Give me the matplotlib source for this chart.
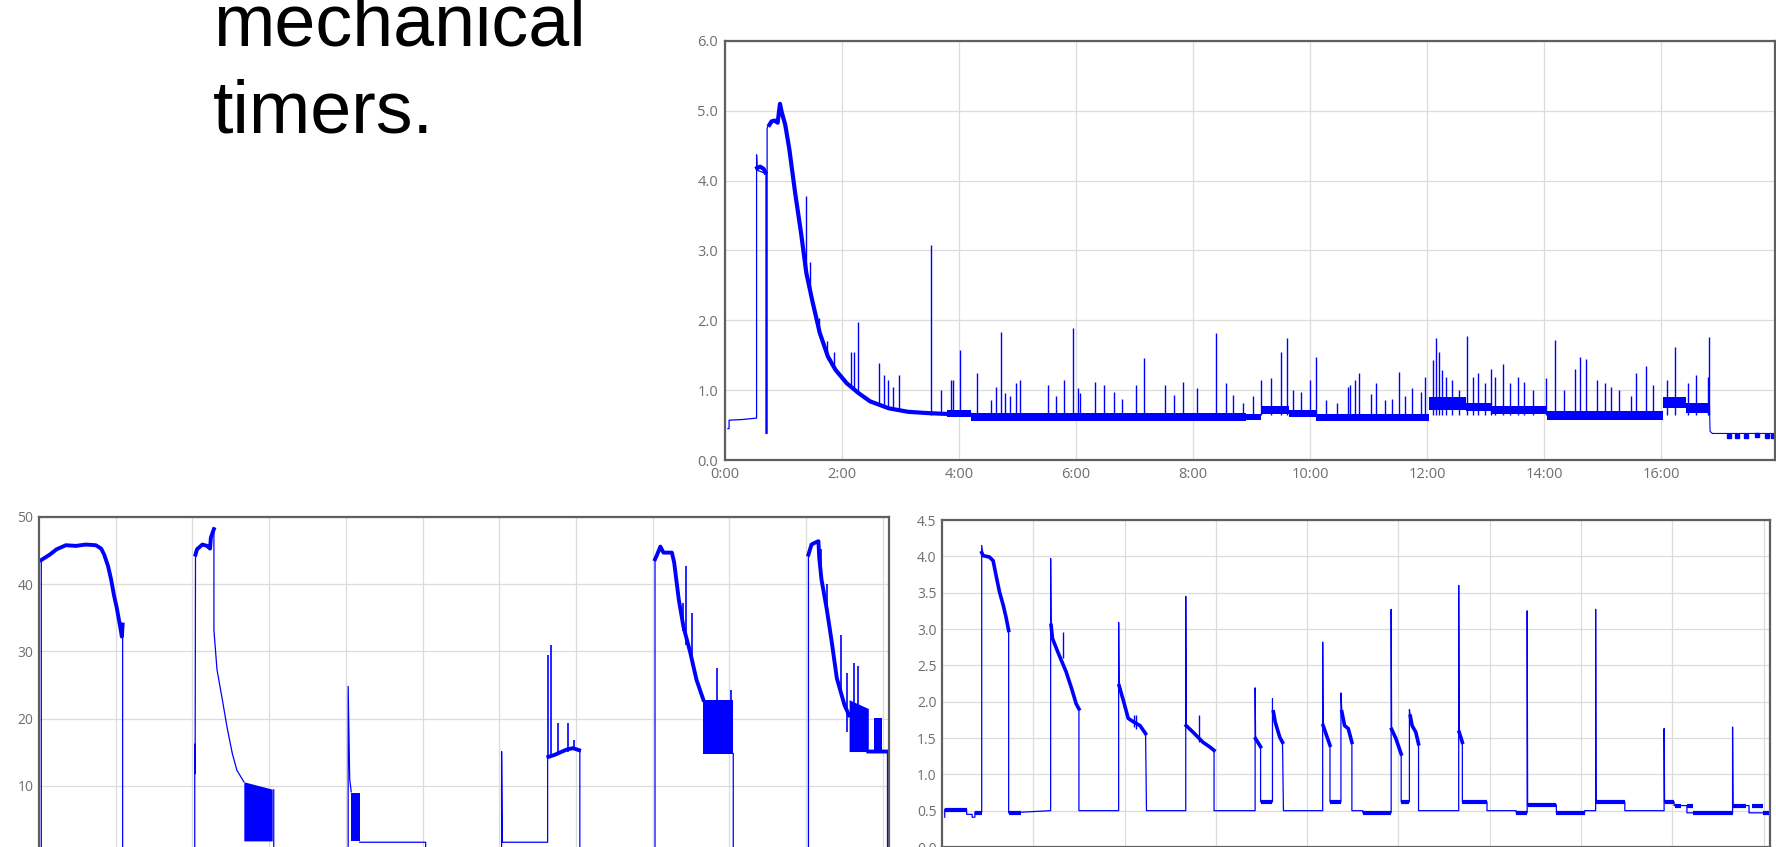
import numpy as np
import matplotlib
matplotlib.use('Agg')
import matplotlib.pyplot as plt

BLUE = '#0000ff'
GRID = '#dcdcdc'
SPINE = '#5f5f5f'
LABEL = '#6e6e6e'
nan = np.nan

# ---------------- top chart (hours since 0:00) ----------------
top_t = [0.05, 0.07, 0.07, 0.30, 0.54, 0.54, 0.55, 0.70, 0.70, 0.72, 0.72, 0.77]
top_v = [0.45, 0.45, 0.57, 0.58, 0.60, 4.37, 4.15, 4.10, 0.38, 0.38, 4.75, 4.85]

top_thick_t = [0.55, 0.60, 0.66, 0.69, nan,
               0.76, 0.80, 0.85, 0.90, 0.94, 0.97, 1.03, 1.10, 1.20, 1.30, 1.39, 1.49,
               1.62, 1.76, 1.89, 2.08, 2.28, 2.48, 2.80, 3.13, 3.50, 3.79, 4.18]
top_thick_v = [4.18, 4.20, 4.17, 4.12, nan,
               4.80, 4.85, 4.86, 4.83, 5.10, 4.98, 4.80, 4.45, 3.82, 3.25, 2.68, 2.29,
               1.82, 1.48, 1.29, 1.10, 0.96, 0.84, 0.74, 0.69, 0.67, 0.66, 0.65]

# noisy baseline bands: start, end, low, high
top_band_t0 = [3.8, 4.2, 8.9, 9.16, 9.65, 10.1, 12.04, 12.66, 13.09, 14.06, 16.04, 16.42]
top_band_t1 = [4.2, 8.9, 9.16, 9.65, 10.1, 12.04, 12.66, 13.09, 14.06, 16.04, 16.42, 16.83]
top_band_lo = [0.62, 0.56, 0.57, 0.66, 0.62, 0.56, 0.72, 0.70, 0.66, 0.57, 0.74, 0.68]
top_band_hi = [0.72, 0.68, 0.66, 0.78, 0.72, 0.66, 0.90, 0.82, 0.78, 0.70, 0.90, 0.82]

top_spike_t = [1.38, 1.46, 1.60, 1.74, 1.87, 2.15, 2.20, 2.27, 2.63, 2.71, 2.79, 2.87,
               2.97, 3.52, 3.70, 3.86, 3.90, 4.02, 4.30, 4.54, 4.64, 4.71, 4.78, 4.87,
               4.98, 5.05, 5.52, 5.66, 5.80, 5.95, 6.03, 6.07, 6.32, 6.48, 6.65, 6.78,
               7.02, 7.16, 7.52, 7.68, 7.83, 8.07, 8.39, 8.57, 8.68, 8.85, 9.03, 9.17,
               9.33, 9.51, 9.61, 9.71, 9.85, 10.00, 10.11, 10.28, 10.46, 10.65, 10.69,
               10.77, 10.84, 11.04, 11.13, 11.28, 11.41, 11.52, 11.63, 11.75, 11.89,
               11.96, 12.10, 12.16, 12.20, 12.26, 12.32, 12.43, 12.54, 12.69, 12.78,
               12.87, 12.99, 13.09, 13.17, 13.30, 13.42, 13.55, 13.66, 13.81, 14.04,
               14.19, 14.34, 14.53, 14.61, 14.72, 14.90, 15.04, 15.14, 15.29, 15.48,
               15.58, 15.75, 15.87, 16.10, 16.24, 16.46, 16.60, 16.81, 16.82]
top_spike_v = [3.78, 2.84, 2.03, 1.70, 1.55, 1.55, 1.55, 1.98, 1.39, 1.22, 1.15, 1.05,
               1.22, 3.08, 1.00, 1.15, 1.15, 1.58, 1.24, 0.86, 1.05, 1.84, 0.96, 0.91,
               1.10, 1.15, 1.08, 0.91, 1.15, 1.89, 1.03, 0.96, 1.12, 1.08, 0.98, 0.88,
               1.08, 1.46, 1.08, 0.93, 1.12, 1.03, 1.82, 1.10, 0.93, 0.81, 0.91, 1.15,
               1.17, 1.55, 1.74, 1.00, 0.98, 1.15, 1.48, 0.86, 0.81, 1.05, 1.07,
               1.15, 1.24, 0.95, 1.10, 0.86, 0.88, 1.26, 0.91, 1.03, 0.98,
               1.19, 1.43, 1.74, 1.55, 1.29, 1.19, 1.15, 1.00, 1.77, 1.19,
               1.24, 1.10, 1.31, 1.19, 1.38, 1.10, 1.19, 1.12, 1.00, 1.17,
               1.72, 1.00, 1.31, 1.47, 1.44, 1.15, 1.10, 1.05, 1.00, 0.91,
               1.24, 1.34, 1.07, 1.15, 1.62, 1.10, 1.22, 1.19, 1.76]
# where each spike leaves the trace (the decay curve for the early ones)
top_spike_b = [2.70, 2.35, 1.90, 1.50, 1.30, 1.05, 1.02, 0.98, 0.80, 0.77, 0.75, 0.73,
               0.71] + [0.64] * 95

top_tail_t = [16.83, 16.84, 16.88, 17.95]
top_tail_v = [0.78, 0.41, 0.38, 0.38]
top_dot_t = [17.16, 17.30, 17.45, 17.64, 17.82, 17.92]
top_dot_v = [0.34, 0.34, 0.34, 0.36, 0.34, 0.34]

top_xticks = [0, 2, 4, 6, 8, 10, 12, 14, 16]
top_xlabels = ['0:00', '2:00', '4:00', '6:00', '8:00', '10:00', '12:00', '14:00', '16:00']
top_yticks = [0.0, 1.0, 2.0, 3.0, 4.0, 5.0, 6.0]

# ---------------- bottom left chart ----------------
bl_t = [0.03, 0.03, nan, 1.09, 1.09, nan,
        2.03, 2.03, 2.035, 2.04, nan, 2.28, 2.28, 2.32, 2.39, 2.45, 2.52, 2.58, 2.67, nan,
        3.06, 3.06, 3.06, nan,
        4.03, 4.03, 4.05, 4.07, nan, 4.18, 5.04, 5.04, nan,
        6.03, 6.03, 6.04, 6.63, 6.63, nan, 7.05, 7.05, nan,
        8.03, 8.03, nan, 9.05, 9.05, nan,
        10.03, 10.03, nan, 11.06, 11.06]
bl_v = [0.0, 43.6, nan, 34.0, 0.0, nan,
        0.0, 16.2, 11.8, 44.4, nan, 48.2, 33.2, 27.3, 22.8, 18.8, 14.8, 12.3, 10.6, nan,
        9.4, 1.8, 0.0, nan,
        0.0, 24.8, 11.0, 9.1, nan, 1.6, 1.6, 0.0, nan,
        0.0, 15.1, 1.6, 1.6, 14.1, nan, 15.3, 0.0, nan,
        0.0, 43.7, nan, 14.8, 0.0, nan,
        0.0, 44.4, nan, 15.1, 0.0]

bl_thick_t = [0.03, 0.14, 0.23, 0.35, 0.48, 0.61, 0.74, 0.81, 0.85, 0.90, 0.94, 0.98,
              1.01, 1.05, 1.08, 1.09, nan,
              2.04, 2.06, 2.13, 2.19, 2.23, 2.24, 2.27, 2.28, nan,
              6.64, 6.72, 6.80, 6.88, 6.96, 7.04, nan,
              8.03, 8.05, 8.10, 8.14, 8.25, 8.28, 8.34, 8.40, 8.49, 8.57, 8.66, nan,
              10.03, 10.07, 10.12, 10.16, 10.17, 10.20, 10.27, 10.33, 10.40, 10.50, 10.56, nan,
              10.81, 11.06]
bl_thick_v = [43.6, 44.4, 45.2, 45.8, 45.7, 45.9, 45.8, 45.3, 44.4, 42.7, 40.7, 38.2,
              36.7, 34.2, 32.2, 34.0, nan,
              44.4, 45.2, 45.9, 45.7, 45.3, 46.9, 47.9, 48.2, nan,
              14.3, 14.6, 15.0, 15.4, 15.6, 15.3, nan,
              43.7, 44.2, 45.6, 44.7, 44.7, 43.2, 37.7, 33.7, 29.8, 25.8, 22.8, nan,
              44.4, 45.9, 46.2, 46.4, 44.0, 40.7, 36.2, 31.7, 26.0, 22.0, 20.5, nan,
              15.1, 15.1]

bl_band_t0 = [2.67, 4.07, 8.66, 10.56, 10.88]
bl_band_t1 = [3.04, 4.18, 9.04, 10.81, 10.99]
bl_band_lo = [1.8, 1.8, 14.8, 15.1, 15.1]
bl_band_hi0 = [10.6, 9.0, 22.8, 22.8, 20.1]
bl_band_hi1 = [9.5, 9.0, 22.8, 21.5, 20.1]

bl_spike_t = [6.63, 6.68, 6.76, 6.89, 6.97, 8.39, 8.44, 8.51, 8.84, 9.02,
              10.20, 10.27, 10.45, 10.53, 10.62, 10.67]
bl_spike_b = [14.1, 14.3, 14.6, 15.0, 15.4, 33.0, 31.0, 28.0, 14.8, 14.8,
              42.0, 35.0, 24.0, 18.0, 15.1, 15.1]
bl_spike_v = [29.5, 31.0, 19.3, 19.3, 16.8, 37.2, 42.7, 35.7, 27.5, 24.3,
              45.2, 40.0, 32.5, 26.8, 28.3, 27.8]

bl_yticks = [0, 10, 20, 30, 40, 50]
bl_ylabels = ['', '10', '20', '30', '40', '50']

# ---------------- bottom right chart ----------------
br_t = [0.03, 0.03, 0.27, 0.27, 0.33, 0.33, 0.36, 0.36, 0.435, 0.435, 0.45, nan,
        0.73, 0.73, 1.19, 1.19, 1.195, nan,
        1.50, 1.50, 1.935, 1.935, 1.94, nan,
        2.23, 2.24, 2.67, 2.67, 2.675, nan,
        2.98, 2.98, 3.43, 3.43, 3.435, nan,
        3.49, 3.49, 3.62, 3.62, nan, 3.73, 3.74, 4.17, 4.17, 4.175, nan,
        4.25, 4.25, 4.37, 4.37, 4.38, nan, 4.49, 4.49, 4.61, 4.61, 4.92, 4.92, 4.925, nan,
        5.03, 5.03, 5.12, 5.12, 5.13, nan, 5.22, 5.22, 5.66, 5.66, 5.665, nan,
        5.70, 5.70, 5.97, 5.97, 6.29, 6.29, 6.41, 6.41, 6.415, 6.73, 6.73, 7.04, 7.04,
        7.16, 7.16, 7.165, 7.48, 7.48, 7.91, 7.91, 7.915, 8.02, 8.02, 8.16, 8.16, 8.66,
        8.66, 8.665, 8.84, 8.84, 9.07]
br_v = [0.41, 0.52, 0.52, 0.45, 0.45, 0.41, 0.41, 0.48, 0.48, 4.15, 4.01, nan,
        2.98, 0.47, 0.50, 3.97, 3.05, nan,
        1.90, 0.50, 0.50, 3.09, 2.22, nan,
        1.56, 0.50, 0.50, 3.45, 1.67, nan,
        1.33, 0.50, 0.50, 2.19, 1.49, nan,
        1.38, 0.62, 0.62, 2.04, nan, 1.44, 0.50, 0.50, 2.82, 1.67, nan,
        1.40, 0.62, 0.62, 2.12, 1.86, nan, 1.44, 0.50, 0.50, 0.47, 0.47, 3.27, 1.62, nan,
        1.28, 0.62, 0.62, 1.89, 1.80, nan, 1.42, 0.50, 0.50, 3.60, 1.58, nan,
        1.44, 0.62, 0.62, 0.50, 0.50, 0.47, 0.47, 3.25, 0.58, 0.58, 0.47, 0.47, 0.50,
        0.50, 3.27, 0.62, 0.62, 0.50, 0.50, 1.63, 0.62, 0.62, 0.57, 0.57, 0.47, 0.47,
        1.65, 0.57, 0.57, 0.47, 0.47]

br_thick_t = [0.435, 0.45, 0.52, 0.56, 0.60, 0.63, 0.67, 0.70, 0.73, nan,
              1.195, 1.21, 1.27, 1.36, 1.42, 1.47, 1.50, nan,
              1.94, 1.99, 2.04, 2.10, 2.17, 2.23, nan,
              2.675, 2.75, 2.86, 2.93, 2.98, nan,
              3.435, 3.49, nan, 3.63, 3.65, 3.70, 3.73, nan,
              4.175, 4.20, 4.25, nan, 4.38, 4.41, 4.45, 4.49, nan,
              4.925, 4.97, 5.03, nan, 5.13, 5.15, 5.19, 5.22, nan,
              5.665, 5.70]
br_thick_v = [4.05, 4.01, 3.99, 3.94, 3.69, 3.51, 3.33, 3.17, 2.98, nan,
              3.05, 2.87, 2.68, 2.41, 2.18, 1.97, 1.90, nan,
              2.22, 2.00, 1.77, 1.72, 1.67, 1.56, nan,
              1.67, 1.58, 1.44, 1.38, 1.33, nan,
              1.49, 1.38, nan, 1.86, 1.72, 1.51, 1.44, nan,
              1.67, 1.58, 1.40, nan, 1.86, 1.67, 1.63, 1.44, nan,
              1.62, 1.50, 1.28, nan, 1.80, 1.67, 1.58, 1.42, nan,
              1.58, 1.44]

br_flat_t0 = [0.03, 0.36, 0.73, 3.49, 4.25, 4.61, 5.03, 5.70, 6.29, 6.415, 6.73, 7.165,
              7.92, 8.03, 8.16, 8.23, 8.665, 8.87, 8.99]
br_flat_t1 = [0.27, 0.435, 0.86, 3.62, 4.37, 4.92, 5.12, 5.97, 6.41, 6.73, 7.04, 7.48,
              8.02, 8.10, 8.23, 8.66, 8.81, 8.99, 9.07]
br_flat_v = [0.515, 0.47, 0.47, 0.62, 0.62, 0.47, 0.62, 0.62, 0.47, 0.58, 0.47, 0.62,
             0.62, 0.57, 0.57, 0.47, 0.57, 0.57, 0.47]

br_spike_t = [1.32, 2.10, 2.13, 2.82]
br_spike_b = [2.60, 1.65, 1.62, 1.45]
br_spike_v = [2.96, 1.82, 1.82, 1.81]

br_yticks = [0.0, 0.5, 1.0, 1.5, 2.0, 2.5, 3.0, 3.5, 4.0, 4.5]


def style_axes(ax, xticks, yticks, ylabels, pad_y, size):
    ax.set_xticks(xticks)
    ax.set_yticks(yticks)
    ax.set_yticklabels(ylabels)
    ax.grid(True, color=GRID, linewidth=0.9)
    ax.set_axisbelow(True)
    for s in ax.spines.values():
        s.set_color(SPINE)
        s.set_linewidth(1.6)
    ax.tick_params(length=0, colors=LABEL, labelsize=size, pad=pad_y)
    for lab in ax.get_xticklabels() + ax.get_yticklabels():
        lab.set_fontfamily('Open Sans')


fig = plt.figure(figsize=(17.76, 8.47), dpi=100)

fig.text(0.1199, 1 - 46 / 847, 'mechanical', fontsize=53, family='Liberation Sans',
         va='baseline', ha='left', color='black')
fig.text(0.1199, 1 - 132 / 847, 'timers.', fontsize=53, family='Liberation Sans',
         va='baseline', ha='left', color='black')

# top chart
ax1 = fig.add_axes([725 / 1776, 387 / 847, 1050 / 1776, 419 / 847])
ax1.plot(top_t, top_v, color=BLUE, lw=0.9)
ax1.plot(top_thick_t, top_thick_v, color=BLUE, lw=3.0, solid_joinstyle='round')
for t0, t1, lo, hi in zip(top_band_t0, top_band_t1, top_band_lo, top_band_hi):
    ax1.fill_between([t0, t1], [lo, lo], [hi, hi], color=BLUE, lw=0)
ax1.vlines(top_spike_t, top_spike_b, top_spike_v, color=BLUE, lw=1.0)
ax1.plot(top_tail_t, top_tail_v, color=BLUE, lw=0.8)
ax1.plot(top_dot_t, top_dot_v, 's', color=BLUE, ms=3, lw=0)
ax1.set_xlim(0, 17.95)
ax1.set_ylim(0, 6)
style_axes(ax1, top_xticks, top_yticks, ['%.1f' % v for v in top_yticks], 5, 10.5)
ax1.set_xticklabels(top_xlabels)
ax1.tick_params(axis='x', pad=5)
for lab in ax1.get_xticklabels():
    lab.set_fontfamily('Open Sans')

# bottom left chart
ax2 = fig.add_axes([39 / 1776, -6 / 847, 850 / 1776, 336 / 847])
ax2.plot(bl_t, bl_v, color=BLUE, lw=0.9)
ax2.plot(bl_thick_t, bl_thick_v, color=BLUE, lw=2.8, solid_joinstyle='round')
for t0, t1, lo, h0, h1 in zip(bl_band_t0, bl_band_t1, bl_band_lo, bl_band_hi0, bl_band_hi1):
    ax2.fill_between([t0, t1], [lo, lo], [h0, h1], color=BLUE, lw=0)
ax2.vlines(bl_spike_t, bl_spike_b, bl_spike_v, color=BLUE, lw=1.2)
ax2.set_xlim(0, 11.08)
ax2.set_ylim(0, 50)
style_axes(ax2, list(range(1, 12)), bl_yticks, bl_ylabels, 4, 10)
ax2.tick_params(axis='x', labelbottom=False)

# bottom right chart
ax3 = fig.add_axes([942 / 1776, 0, 828 / 1776, 327 / 847])
ax3.plot(br_t, br_v, color=BLUE, lw=0.9)
ax3.plot(br_thick_t, br_thick_v, color=BLUE, lw=2.6, solid_joinstyle='round')
ax3.hlines(br_flat_v, br_flat_t0, br_flat_t1, color=BLUE, lw=3.0)
ax3.vlines(br_spike_t, br_spike_b, br_spike_v, color=BLUE, lw=1.0)
ax3.set_xlim(0, 9.07)
ax3.set_ylim(0, 4.5)
style_axes(ax3, list(range(1, 10)), br_yticks, ['%.1f' % v for v in br_yticks], 4, 10)
ax3.tick_params(axis='x', labelbottom=False)

fig.savefig('out.png', dpi=100)
